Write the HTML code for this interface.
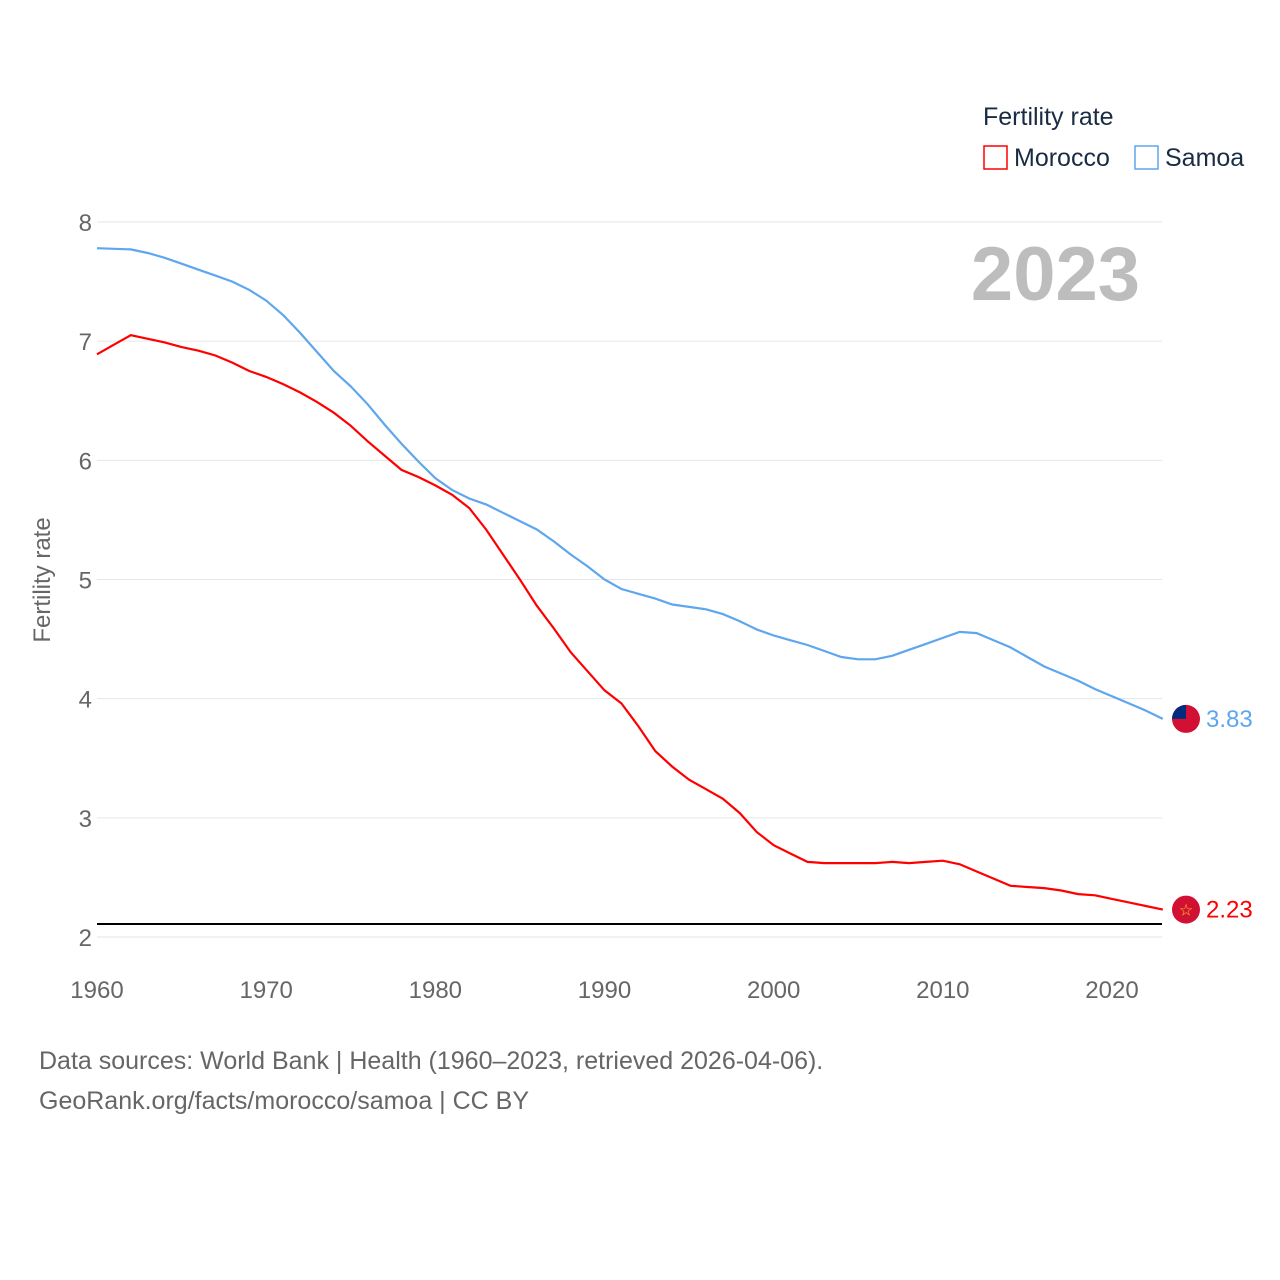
<!DOCTYPE html>
<html><head><meta charset="utf-8"><style>
body{margin:0;background:#fff;font-family:"Liberation Sans",sans-serif;}
svg{display:block}
</style></head><body>
<svg id="chart" width="1280" height="1280" xmlns="http://www.w3.org/2000/svg">
<g id="grid"></g>
<g id="yticks" font-size="24" fill="#666"></g>
<g id="xticks" font-size="24" fill="#666"></g>
<text x="0" y="0" transform="translate(50,580) rotate(-90)" text-anchor="middle" font-size="24" fill="#666">Fertility rate</text>
<text x="1140" y="300" text-anchor="end" font-size="76" font-weight="bold" fill="#bdbdbd">2023</text>
<text x="983" y="125" font-size="25" fill="#1a2b44">Fertility rate</text>
<rect x="984" y="146" width="23" height="23" fill="none" stroke="#ff0000" stroke-width="1.5"/>
<text x="1014" y="166" font-size="25" fill="#1a2b44">Morocco</text>
<rect x="1135" y="146" width="23" height="23" fill="none" stroke="#5ea6ee" stroke-width="1.5"/>
<text x="1165" y="166" font-size="25" fill="#1a2b44">Samoa</text>
<line x1="97" x2="1162" y1="924" y2="924" stroke="#000" stroke-width="2"/>
<g id="series"></g>
<text x="39" y="1069" font-size="25" fill="#666">Data sources: World Bank | Health (1960–2023, retrieved 2026-04-06).</text>
<text x="39" y="1109" font-size="25" fill="#666">GeoRank.org/facts/morocco/samoa | CC BY</text>
</svg>
<script>
const years=[];for(let y=1960;y<=2023;y++)years.push(y);
const samoa=[7.78,7.775,7.77,7.74,7.70,7.65,7.60,7.55,7.50,7.43,7.34,7.22,7.07,6.91,6.75,6.62,6.47,6.30,6.14,5.99,5.85,5.75,5.68,5.63,5.56,5.49,5.42,5.32,5.21,5.11,5.00,4.92,4.88,4.84,4.79,4.77,4.75,4.71,4.65,4.58,4.53,4.49,4.45,4.40,4.35,4.33,4.33,4.36,4.41,4.46,4.51,4.56,4.55,4.49,4.43,4.35,4.27,4.21,4.15,4.08,4.02,3.96,3.90,3.83];
const morocco=[6.89,6.97,7.05,7.02,6.99,6.95,6.92,6.88,6.82,6.75,6.70,6.64,6.57,6.49,6.40,6.29,6.16,6.04,5.92,5.86,5.79,5.71,5.60,5.42,5.21,5.00,4.78,4.59,4.39,4.23,4.07,3.96,3.77,3.56,3.43,3.32,3.24,3.16,3.04,2.88,2.77,2.70,2.63,2.62,2.62,2.62,2.62,2.63,2.62,2.63,2.64,2.61,2.55,2.49,2.43,2.42,2.41,2.39,2.36,2.35,2.32,2.29,2.26,2.23];
const yTicks=[2,3,4,5,6,7,8];
const xTicks=[1960,1970,1980,1990,2000,2010,2020];
const NS="http://www.w3.org/2000/svg";
const xs=y=>97+(y-1960)*(1112-97)/60;
const ys=v=>937-(v-2)*(937-222)/6;
function mk(t,a,p){const e=document.createElementNS(NS,t);for(const k in a)e.setAttribute(k,a[k]);p.appendChild(e);return e;}
const grid=document.getElementById('grid'),yt=document.getElementById('yticks'),xt=document.getElementById('xticks'),ser=document.getElementById('series');
yTicks.forEach(v=>{
 const l=mk('line',{x1:97,x2:1162,y1:ys(v),y2:ys(v),stroke:'#e6e6e6','stroke-width':1},grid);
 
 
 const t=mk('text',{x:92,y:ys(v)+9,'text-anchor':'end'},yt);t.textContent=v;
 
 
});
xTicks.forEach(v=>{
 const t=mk('text',{x:xs(v),y:998,'text-anchor':'middle'},xt);t.textContent=v;
 
 
});
function line(data,color,name){
 const p=mk('path',{d:data.map((v,i)=>(i?'L':'M')+xs(years[i]).toFixed(1)+','+ys(v).toFixed(1)).join(''),fill:'none',stroke:color,'stroke-width':2.2},ser);
 
 
 const last=data[data.length-1];
 const c=mk('circle',{cx:1186,cy:ys(last),r:14,fill:'#d21034'},ser);
 
 
 const t=mk('text',{x:1206,y:ys(last)+8,'font-size':24,fill:color},ser);t.textContent=last.toFixed(2);
 
 
 return c;
}
line(morocco,'#ff0000','morocco');
line(samoa,'#5ea6ee','samoa');
const sq=mk('path',{d:`M1172,${ys(3.83)} A14,14 0 0 1 1186,${ys(3.83)-14} L1186,${ys(3.83)} Z`,fill:'#002b7f'},ser);


const st=mk('text',{x:1186,y:ys(2.23)+6,'text-anchor':'middle','font-size':16,fill:'#f7d116'},ser);st.textContent='☆';


</script>
</body></html>
